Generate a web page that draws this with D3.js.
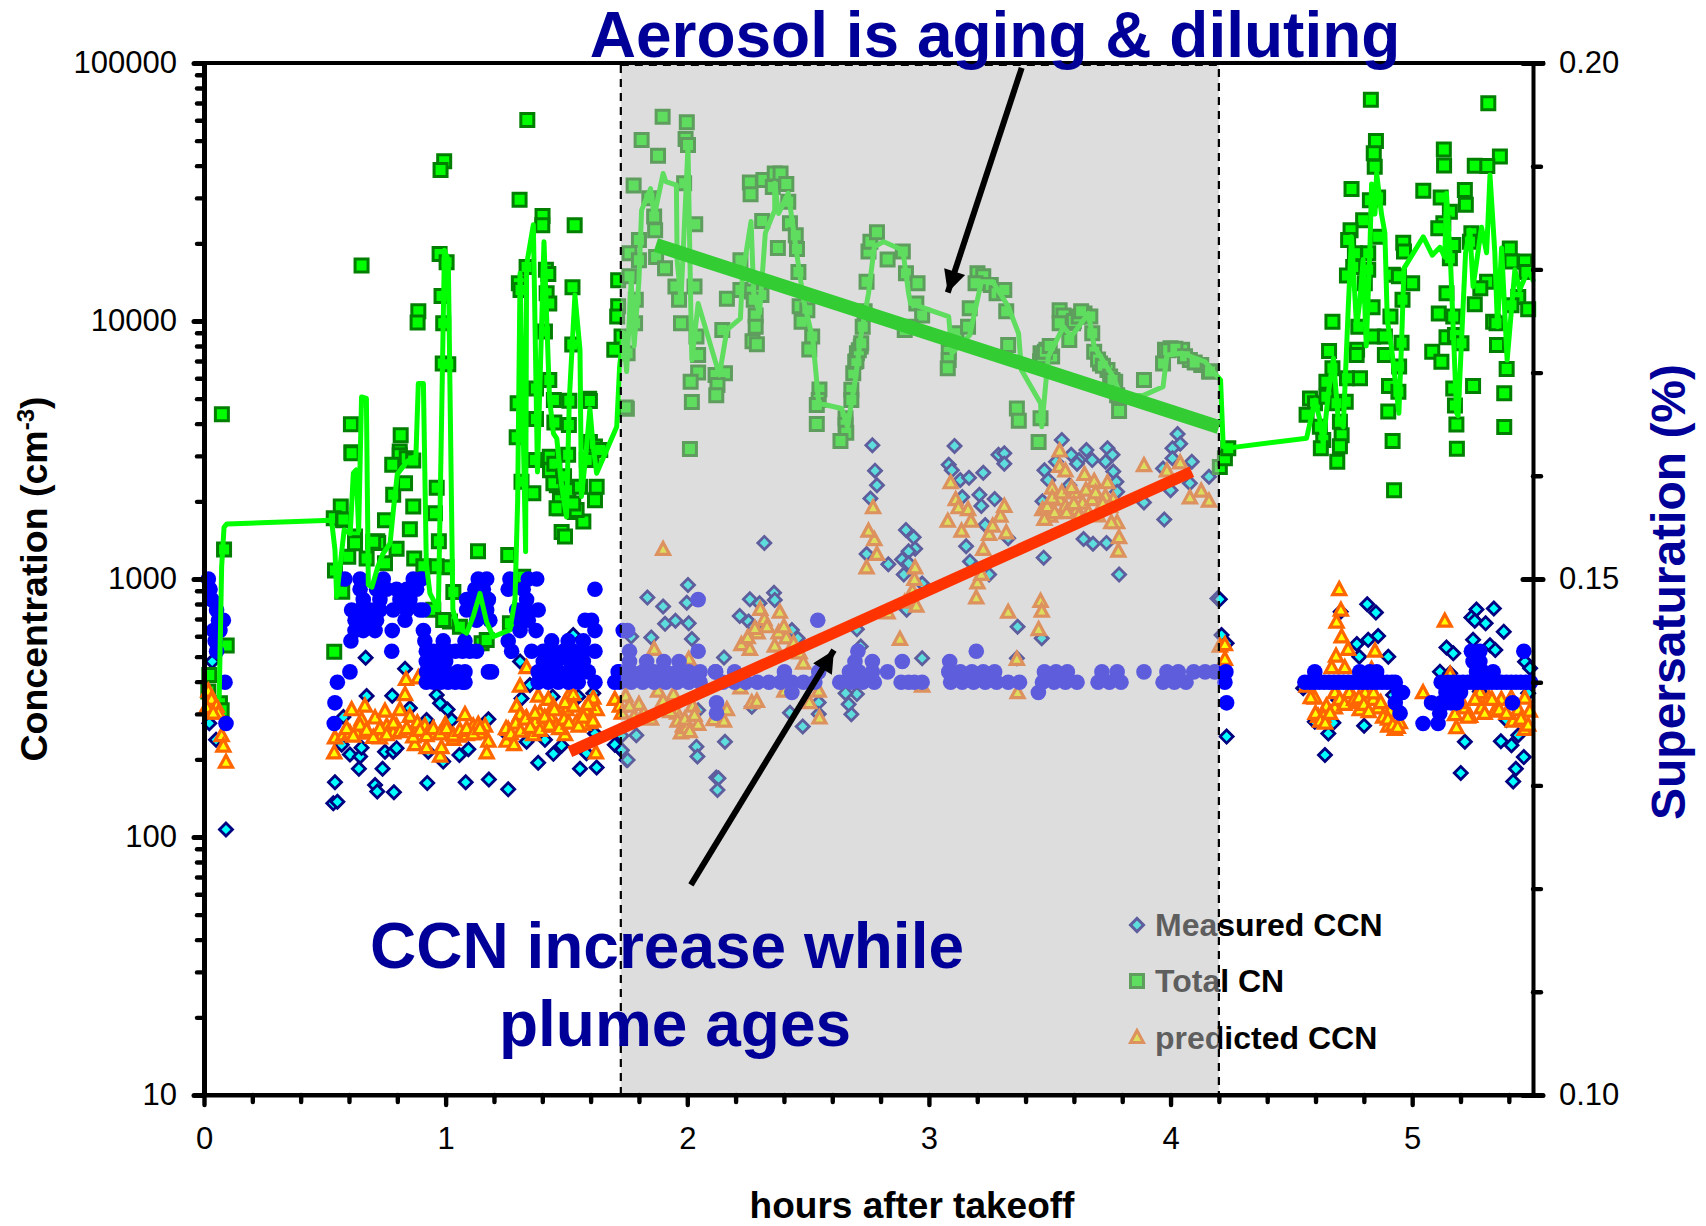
<!DOCTYPE html>
<html><head><meta charset="utf-8">
<script src="https://cdnjs.cloudflare.com/ajax/libs/d3/7.8.5/d3.min.js"></script>
<style>html,body{margin:0;padding:0;background:#fff}svg{display:block}text{font-family:"Liberation Sans",Arial,sans-serif}</style>
</head><body><svg id="c" width="1706" height="1226"></svg>
<script>
const totalCN=[[.074,4350],[.652,16400],[.608,3980],[.61,3100],[.814,3610],[.81,3120],[.887,10900],[.884,9860],[.994,41600],[.979,38500],[.975,18200],[1.004,16900],[.983,12500],[.99,9800],[.988,6850],[1.011,6800],[1.338,60100],[1.306,29500],[1.401,25500],[1.4,23500],[1.534,23500],[1.335,16200],[1.303,14000],[1.31,13200],[1.415,15800],[1.425,15200],[1.418,12800],[1.429,11700],[1.525,13500],[1.411,9100],[1.524,8100],[1.429,5900],[1.374,5480],[1.298,4800],[1.448,4940],[1.512,4910],[1.594,5000],[1.597,4900],[1.374,4170],[1.45,4040],[1.51,3950],[1.294,3540],[1.714,14400],[1.714,11400],[1.71,10400],[1.698,7730],[1.728,8700],[1.75,4570],[1.597,3400],[1.618,3260],
[.611,3070],[.81,3020],[.779,2770],[.839,2940],[.866,2880],[.963,2260],[.783,2120],[.832,2350],[.866,1910],[.566,1910],[.537,1720],[.576,1690],[.956,1800],[.749,1690],[.852,1560],[.625,1460],[.717,1400],[.972,1400],[.597,1220],[.797,1310],[.87,1200],[.673,1200],[.749,1150],[1.004,1110],[.963,1120],[.908,1120],[.542,1080],[.539,522],[1.134,1280],[1.259,1240],[.572,893],[1.032,890],[.949,760],[1.018,684],[1.059,653],[1.149,564],[1.17,580],[1.321,1020],[1.314,2380],[1.363,2150],[1.37,2890],[1.431,2980],[1.507,3030],[1.604,2980],[1.625,2280],[1.618,2020],[1.446,2640],[1.46,2310],[1.473,1880],[1.535,1820],[1.57,1670],[1.48,1520],[1.494,1460],[1.266,673],[.094,552],[.083,1300],[.022,425],[.018,366],[.066,330],[.073,310],[1.156,830],[.99,693],
[.625,1375],[.721,1380],[.7,1394],[.577,1700],[1.473,2020],[1.459,1880],[1.542,1850],[1.432,2640],[1.446,2350],[1.508,2210],[1.556,2280],[1.584,2890],[1.64,3160],[1.528,1960],[1.45,2800],[1.49,2500],
[1.898,61900],[1.998,58900],[1.811,50300],[1.879,43700],[1.993,50700],[2.003,48100],[1.778,33500],[1.987,34200],[1.843,29900],[1.863,25400],[2.033,23700],[1.867,22500],[1.8,20600],[1.761,18300],[1.8,17200],[1.871,17700],[1.908,16000],[1.761,14900],[1.951,13600],[1.966,12100],[2.03,13600],[1.787,12100],[1.784,9800],[1.974,9800],[1.753,7500],[2.038,8700],[2.045,7380],[2.045,6320],[2.014,5820],[2.019,4850],[2.011,3190],[1.745,4620],[2.22,17200],[2.164,12200],[2.22,13200],[2.145,9230],[2.117,6170],[2.156,6270],[2.125,5650],[2.12,5160],[2.259,34400],[2.262,31000],[2.315,35200],[2.362,37300],[2.386,37300],[2.41,34000],[2.354,33100],[2.418,29000],[2.31,24400],[2.425,23900],[2.449,21500],[2.454,19000],[2.375,19200],[2.46,15500],[2.267,13000],[2.307,12600],[2.275,12100],[2.283,10500],[2.283,9500],[2.27,8350],[2.288,8120],[2.465,11400],[2.497,11000],[2.473,9940],[2.517,8700],[2.505,7760],[2.547,5430],[2.544,4940],[2.536,4720],[2.536,3990],[2.679,5410],[2.679,4940],[2.655,4200],[2.655,3960],[2.658,3690],[2.634,3430],[2.687,6270],[2.695,6950],[2.702,7500],[2.718,7960],[2.726,9500],[2.734,10900],[2.742,14200],[2.75,18600],[2.758,20300],[2.785,22100],[2.829,17300],[2.892,18600],[2.905,15300],[2.953,14000],[2.948,11700],[2.972,10500],[2.924,9500],[2.9,9230],[3.082,7600],[3.082,7060],[3.078,6560],[3.169,11200],[3.114,8960],[3.162,9500],[3.201,15300],[3.225,14900],[3.193,14000],[3.256,13800],[3.28,12800],[3.312,13200],[3.32,10900],[3.328,8070],[3.364,4580],[3.372,4110],[3.462,4200],[3.454,3400],[3.541,11000],[3.557,10500],[3.541,9800],[3.581,8440],[3.597,9800],[3.644,10700],[3.668,10400],[3.676,8960],[3.684,7600],[3.708,6850],[3.739,6460],[3.771,5820],[3.779,5160],[3.787,4480],[3.462,7500],[3.486,7730],[3.51,7280],[3.89,5900],[3.977,7730],[4.0,7840],[4.048,7730],[3.969,6850],[4.08,7060],[4.127,6750],[4.159,6370],[3.7,7100],[3.72,6700],[3.75,6100],[3.76,5900],[3.46,7000],[3.47,7300],[3.48,7600],[3.5,8000],[2.7,7000],[2.71,7700],[2.72,8200],[3.6,10000],[3.62,10400],[3.63,10900],[3.99,7700],[4.02,7800],[4.06,7300],[4.1,6900],
[4.163,6370],[4.204,2720],[4.225,2940],[4.239,3210],[4.829,72100],[5.315,69800],[4.85,49900],[4.841,44700],[4.845,39600],[5.131,46200],[5.132,40100],[5.363,43400],[5.259,40000],[5.311,39900],[4.749,32500],[5.046,32000],[5.218,32200],[5.118,30100],[5.222,28200],[4.859,30100],[4.825,29400],[5.156,26500],[4.797,24600],[5.129,23900],[5.108,22900],[4.745,22500],[4.735,20600],[4.859,21200],[4.963,20100],[4.966,18600],[5.245,21900],[5.239,20300],[5.17,19700],[5.156,17500],[5.404,19100],[4.818,18300],[4.763,18300],[5.411,17000],[5.467,17000],[5.473,15500],[4.818,15800],[4.756,16200],[4.73,15000],[4.804,14000],[4.92,15100],[4.945,14900],[5.0,14000],[5.31,14200],[5.282,13400],[4.96,12100],[4.836,11300],[5.142,12800],[5.259,11600],[5.439,12400],[5.411,11500],[5.48,11100],[4.91,10400],[5.11,10700],[5.17,10400],[4.67,9940],[4.777,9500],[5.335,9940],[5.349,9800],[4.839,8700],[4.887,8700],[4.956,8240],[5.142,8650],[5.177,8830],[5.204,8190],[4.772,7730],[4.77,7380],[4.656,7650],[5.083,7600],[4.887,7380],[5.351,8070],[5.121,6950],[4.946,6660],[5.391,6520],[4.67,6560],[4.784,6000],[4.73,6000],[4.645,5820],[5.252,5600],[5.17,5480],[4.904,5600],[4.943,5320],[5.381,5250],[4.577,5010],[4.598,4800],[4.725,4860],[5.177,4700],[4.901,4460],[4.563,4330],[4.645,5090],[4.687,4800],[4.701,4070],[5.183,3970],[5.381,3880],[4.618,3890],[4.708,3610],[4.632,3460],[4.701,3270],[4.622,3210],[4.919,3430],[5.185,3200],[4.69,2850],[4.925,2210]];

const totalCNLine=[[.063,350],[.073,1116],[.083,1585],[.094,1635],[.528,1690],[.542,1295],[.549,855],[.58,1550],[.605,1500],[.618,2570],[.63,2650],[.64,1540],[.652,5080],[.672,5010],[.68,950],[.695,930],[.72,1120],[.74,1250],[.77,1375],[.785,1900],[.8,2550],[.84,2850],[.877,3000],[.887,5720],[.908,5720],[.92,1150],[.935,880],[.97,760],[.995,18800],[1.011,17200],[1.03,760],[1.05,650],[1.087,617],[1.115,720],[1.142,880],[1.17,680],[1.197,597],[1.266,635],[1.287,830],[1.298,2000],[1.308,15300],[1.331,1275],[1.335,16500],[1.363,23600],[1.38,2600],[1.407,20300],[1.43,5000],[1.446,3670],[1.46,3500],[1.48,2300],[1.5,1740],[1.512,5000],[1.535,12600],[1.556,7730],[1.562,2090],[1.58,3000],[1.597,4570],[1.61,3300],[1.625,2570],[1.708,3890],[1.72,6650],[1.735,9000],[1.749,6370],[1.768,14400],[1.78,8000],[1.8,14400],[1.811,26900],[1.848,32600],[1.863,25400],[1.9,37300],[1.911,34700],[1.955,33600],[1.958,17200],[1.974,12100],[2.003,47400],[2.014,12000],[2.019,7060],[2.045,11700],[2.133,6170],[2.164,9230],[2.22,10240],[2.228,14900],[2.264,24300],[2.275,12800],[2.299,10700],[2.323,21900],[2.362,26900],[2.362,34200],[2.378,26100],[2.418,31300],[2.457,17200],[2.481,12100],[2.52,8430],[2.544,4800],[2.639,4580],[2.663,3890],[2.695,5900],[2.718,8700],[2.75,12800],[2.774,19400],[2.813,20300],[2.892,18800],[2.916,12800],[2.924,11700],[3.082,10400],[3.095,7500],[3.169,8830],[3.217,14200],[3.264,14200],[3.328,11400],[3.371,8960],[3.383,6460],[3.462,4800],[3.467,3890],[3.494,7280],[3.557,9500],[3.589,8700],[3.66,10700],[3.684,7960],[3.763,6080],[3.795,5090],[3.89,5160],[3.969,5560],[3.985,7380],[4.048,7500],[4.143,6950],[4.183,6270],[4.207,5900],[4.218,3260],[4.252,3230],[4.563,3510],[4.598,4940],[4.618,4130],[4.632,3360],[4.653,5250],[4.674,7170],[4.694,4130],[4.715,3890],[4.735,11000],[4.749,21200],[4.77,9500],[4.784,12100],[4.797,17300],[4.81,8000],[4.825,18900],[4.832,34000],[4.846,26000],[4.853,37400],[4.873,26000],[4.887,21900],[4.897,10100],[4.914,7950],[4.945,4390],[4.956,8200],[4.966,16000],[5.046,21200],[5.083,18000],[5.115,19300],[5.135,17700],[5.142,31200],[5.159,16700],[5.184,4390],[5.19,4300],[5.221,18400],[5.239,22500],[5.252,13600],[5.287,23100],[5.308,18400],[5.322,36800],[5.342,18400],[5.353,9500],[5.37,19200],[5.393,7060],[5.425,15800],[5.445,13200],[5.48,15800],[5.5,14400]];

const measuredCCN=[[.091,107],[.034,479],[.022,276],[.05,238],[.669,495],[.832,449],[1.308,479],[1.528,607],[.673,352],[.779,353],[.963,355],[.977,330],[1.008,312],[.852,316],[1.349,388],[1.314,344],[1.443,350],[1.549,350],[1.611,361],[.577,292],[1.177,286],[1.025,284],[.921,284],[.604,209],[.646,205],[.652,222],[.57,228],[.749,214],[.783,214],[.797,221],[.928,214],[1.057,208],[1.094,219],[.99,196],[1.335,234],[1.411,238],[1.446,210],[1.48,226],[1.383,194],[1.583,211],[1.618,252],[1.7,228],[1.556,184],[1.625,186],[.641,184],[.739,184],[.542,163],[.708,159],[.717,150],[.786,149],[.924,162],[1.083,163],[1.179,167],[1.259,153],[.535,135],[.552,137],[1.252,251],[1.728,247],[1.749,199],[1.728,217],
[1.753,199],[1.729,217],[1.789,248],[1.768,598],[1.835,847],[1.9,782],[1.908,670],[1.951,689],[2.006,673],[2.003,948],[1.998,809],[1.851,593],[2.019,585],[2.319,1380],[2.259,834],[2.359,885],[2.362,830],[2.217,719],[2.254,684],[2.275,653],[2.299,805],[2.152,496],[2.433,634],[2.457,589],[2.702,638],[2.718,547],[2.972,493],[3.367,653],[3.467,589],[3.364,493],[2.045,310],[2.038,224],[2.042,205],[2.156,234],[2.12,170],[2.129,169],[2.125,152],[2.478,268],[2.425,303],[2.544,332],[2.544,300],[2.679,299],[2.668,327],[2.702,358],[2.655,361],[2.267,320],[2.766,3300],[2.777,2630],[2.785,2310],[2.758,2050],[2.742,1250],[2.832,1140],[2.905,1550],[2.937,1450],[2.943,1310],[2.916,1280],[2.889,1190],[2.896,1040],[2.916,1150],[2.972,960],[2.908,760],[3.106,3280],[3.082,2770],[3.095,2640],[3.13,2420],[3.166,2470],[3.225,2580],[3.138,2080],[3.209,2120],[3.217,1920],[3.272,2040],[3.288,3030],[3.312,3070],[3.312,2800],[3.154,1340],[3.233,1620],[3.17,1170],[3.249,1040],[3.328,1440],[3.475,1210],[3.47,2000],[3.478,2640],[3.494,2420],[3.55,3460],[3.526,2850],[3.581,2310],[3.589,3030],[3.621,2890],[3.652,3160],[3.676,2890],[3.613,2800],[3.739,3210],[3.76,3030],[3.731,2850],[3.763,2610],[3.776,2380],[3.779,2180],[3.64,1430],[3.679,1370],[3.735,1380],[3.787,1040],[3.89,1980],[3.974,1700],[3.969,2680],[4.0,2210],[4.029,3650],[4.04,3340],[4.008,3210],[4.008,2940],[4.088,2850],[4.159,2490],[4.08,2350],[4.194,841],
[4.204,834],[4.211,607],[4.232,564],[4.232,245],[4.814,798],[4.85,741],[4.859,601],[4.818,581],[4.704,747],[4.771,560],[4.901,500],[4.781,500],[4.639,208],[4.653,252],[4.674,277],[4.597,280],[4.801,270],[5.266,762],[5.338,769],[5.245,710],[5.259,689],[5.304,673],[5.379,625],[5.142,543],[5.17,515],[5.252,581],[5.322,554],[5.344,531],[5.115,437],[5.157,431],[5.218,234],[5.201,177],[5.367,235],[5.411,227],[5.439,248],[5.462,204],[5.429,184],[5.418,164],[5.467,478],[5.488,451],[5.48,361],[5.39,284],[4.921,355],[4.549,377],[4.694,340],[5.28,366]];

const predictedCCN=[[.018,366],[.031,340],[.011,316],[.052,320],[.059,301],[.073,246],[.08,224],[.091,194],[.038,301],
[.539,211],[.542,241],[.577,248],[.611,310],[.666,320],[.652,284],[.632,252],[.604,252],[.708,288],[.749,306],[.728,241],[.68,252],[.756,268],[.797,268],[.811,310],[.832,355],[.836,406],[.887,412],[.783,252],[.852,292],[.883,276],[.873,227],[.921,221],[.914,268],[.949,252],[.977,205],[.983,221],[.999,272],[.99,252],[1.032,238],[1.053,245],[1.08,297],[1.087,248],[1.114,268],[1.163,268],[1.142,252],[1.177,234],[1.17,211],[1.135,272],
[.59,262],[.618,245],[.646,270],[.673,258],[.701,242],[.728,262],[.756,248],[.784,275],[.811,255],[.839,262],[.866,243],[.894,258],[.921,246],[.949,262],[.977,250],[1.004,262],[1.032,247],[1.059,258],[1.087,262],[1.114,250],[1.142,262],
[1.335,451],[1.308,383],[1.294,320],[1.308,297],[1.335,288],[1.259,260],[1.252,234],[1.283,227],[1.363,248],[1.383,350],[1.39,301],[1.425,340],[1.432,292],[1.459,268],[1.397,268],[1.494,248],[1.501,310],[1.508,350],[1.528,355],[1.494,330],[1.541,276],[1.611,344],[1.576,310],[1.625,310],[1.597,276],[1.622,211],[1.57,272],[1.7,340],[1.721,320],[1.37,276],[1.446,320],
[1.25,262],[1.27,250],[1.29,275],[1.31,256],[1.33,285],[1.35,265],[1.37,300],[1.39,258],[1.41,290],[1.43,270],[1.45,310],[1.47,262],[1.49,285],[1.51,275],[1.53,320],[1.55,268],[1.57,290],[1.59,325],[1.61,280],
[1.9,1296],[1.863,531],[2.006,486],[1.879,366],[1.745,350],[1.8,325],[1.729,301],[1.943,355],[1.958,301],[2.022,320],[1.982,268],[2.045,272],[1.974,252],[1.998,264],[2.109,284],[2.152,280],[2.164,310],[2.22,377],[2.224,554],[2.259,531],[2.291,616],[2.302,759],[2.319,693],[2.383,740],[2.378,616],[2.41,589],[2.362,547],[2.267,330],[2.288,334],[2.505,330],[2.547,288],[2.544,366],[2.465,515],[2.402,366],[2.88,581],[2.972,383],[3.367,361],[3.364,486],[3.454,634],[3.462,816],[3.467,747],[3.328,740],[3.196,841],[2.829,736],[2.9,809],[2.948,782],[2.932,893],[2.94,991],[2.943,1100],[2.742,1100],[2.785,1240],[2.774,1416],[2.75,1525],[2.769,1880],[3.09,2350],[3.078,1667],[3.111,2020],[3.122,1880],[3.162,1850],[3.174,1667],[3.135,1525],[3.225,1296],[3.201,961],[3.217,1037],[3.249,1482],[3.264,1595],[3.296,1745],[3.312,1905],[3.32,1503],[3.541,3120],[3.541,2720],[3.565,2610],[3.51,2240],[3.502,1745],[3.47,1850],[3.478,1695],[3.541,2020],[3.565,1905],[3.605,2150],[3.644,2530],[3.684,2380],[3.636,1960],[3.676,2020],[3.613,1850],[3.739,2350],[3.731,2080],[3.763,2020],[3.779,1645],[3.787,1440],[3.784,1276],[3.755,1645],[3.89,2740],[3.985,2610],[4.04,2806],[4.08,2055],[4.127,2180],[4.159,1995],
[3.49,1900],[3.51,2050],[3.52,1800],[3.55,2150],[3.57,1800],[3.59,2250],[3.6,1950],[3.62,1750],[3.65,2200],[3.66,1800],[3.69,2150],[3.7,1750],[3.72,1950],[3.75,1900],
[1.76,320],[1.78,290],[1.82,300],[1.85,285],[1.9,335],[1.93,305],[1.96,280],[1.99,285],[2.01,255],[2.03,295],[2.25,590],[2.28,640],[2.33,650],[2.4,650],[2.44,560],[2.48,470],
[4.204,547],[4.225,554],[4.225,486],[4.698,906],[4.705,754],[4.687,678],[4.708,594],[4.735,531],[4.685,500],[4.846,523],[4.667,451],[4.721,451],[4.832,444],[4.597,344],[4.68,315],[4.645,320],[4.611,292],[4.68,361],[4.563,383],[4.74,361],[4.783,310],[4.805,361],[4.839,340],[4.859,315],[4.908,306],[4.901,268],[4.928,260],[4.949,276],[4.77,330],[4.632,292],[5.135,683],[5.045,361],[5.183,264],[5.24,292],[5.177,297],[5.218,315],[5.287,315],[5.342,306],[5.318,344],[5.369,340],[5.417,280],[5.439,310],[5.466,260],[5.466,344],[5.487,306],[5.157,425],[5.28,361],
[4.58,345],[4.6,300],[4.62,280],[4.64,275],[4.66,300],[4.7,340],[4.72,325],[4.76,340],[4.78,345],[4.8,325],[4.82,305],[4.84,360],[4.87,330],[4.88,290],[4.9,285],[4.92,270],[4.94,265],[5.2,330],[5.23,290],[5.26,340],[5.3,300],[5.33,340],[5.36,310],[5.39,300],[5.41,345],[5.45,285],[5.48,270]];

const supersaturation=[[.018,.15],[.025,.149],[.032,.148],[.052,.147],[.08,.146],[.06,.146],[.039,.145],[.066,.145],[.046,.144],[.052,.143],[.087,.14],[.091,.136],
[.539,.136],[.542,.138],[.552,.14],[.604,.141],[.608,.144],[.583,.15],[.646,.15],[.777,.143],[.779,.145],[.742,.15],[.866,.15],[.9,.15],[.646,.149],[.714,.149],[.756,.149],[.797,.149],[.839,.149],[.88,.149],[.659,.148],[.728,.148],[.811,.148],[.852,.148],[.611,.147],[.646,.147],[.687,.147],[.728,.147],[.783,.147],[.839,.147],[.894,.147],[.625,.146],[.673,.146],[.714,.146],[.832,.146],[.625,.145],[.659,.145],[.708,.145],
[1.135,.15],[1.17,.15],[1.121,.149],[1.156,.149],[1.087,.148],[1.1,.148],[1.177,.148],[1.087,.147],[1.121,.147],[1.17,.147],[1.128,.146],[1.183,.146],[.908,.145],[.914,.144],[.99,.144],[1.08,.144],[.92,.143],[.95,.143],[.98,.143],[1.01,.143],[1.04,.143],[1.07,.143],[1.1,.143],[1.128,.143],[.92,.142],[.96,.142],[1,.142],[.921,.141],[.96,.141],[1,.141],[1.05,.141],[1.08,.141],[1.177,.141],[1.19,.141],[.92,.14],[.95,.14],[.98,.14],[1.01,.14],[1.04,.14],[1.07,.14],[1.08,.14],[.908,.147],
[1.266,.15],[1.342,.15],[1.377,.15],[1.259,.149],[1.321,.149],[1.335,.148],[1.294,.147],[1.335,.147],[1.383,.147],[1.308,.146],[1.342,.146],[1.308,.145],[1.374,.145],[1.259,.144],[1.273,.143],[1.439,.144],[1.507,.144],[1.57,.144],[1.356,.143],[1.404,.143],[1.446,.143],[1.487,.143],[1.528,.143],[1.57,.143],[1.618,.143],[1.404,.142],[1.459,.142],[1.514,.142],[1.57,.142],[1.383,.141],[1.425,.141],[1.466,.141],[1.508,.141],[1.549,.141],[1.59,.141],[1.383,.14],[1.425,.14],[1.466,.14],[1.508,.14],[1.549,.14],[1.618,.14],[1.7,.14],[1.618,.149],[1.577,.146],[1.604,.146],[1.618,.145],[1.735,.145],[1.714,.141],
[1.721,.14],[1.768,.14],[1.816,.14],[1.863,.14],[1.911,.14],[1.958,.14],[2.006,.14],[2.053,.14],[1.721,.141],[1.768,.141],[1.816,.141],[1.863,.141],[1.911,.141],[1.958,.141],[2.006,.141],[2.053,.141],[1.761,.142],[1.832,.142],[1.903,.142],[1.966,.142],[1.761,.143],[1.753,.145],[2.045,.143],[2.045,.148],[2.117,.141],[2.148,.14],[2.196,.14],[2.243,.14],[2.291,.14],[2.338,.14],[2.386,.14],[2.433,.14],[2.481,.14],[2.528,.14],[2.117,.141],[2.196,.141],[2.402,.141],[2.544,.141],[2.631,.14],[2.679,.14],[2.726,.14],[2.774,.14],[2.671,.141],[2.71,.141],[2.766,.141],[2.829,.141],[2.694,.142],[2.766,.142],[2.89,.142],[2.706,.143],[2.885,.14],[2.916,.14],[2.94,.14],[2.972,.14],[2.54,.146],[2.121,.138],[2.121,.137],[2.433,.139],
[3.09,.14],[3.138,.14],[3.185,.14],[3.233,.14],[3.28,.14],[3.328,.14],[3.375,.14],[3.082,.141],[3.13,.141],[3.178,.141],[3.225,.141],[3.272,.141],[3.086,.142],[3.196,.143],[3.453,.139],[3.47,.14],[3.518,.14],[3.565,.14],[3.613,.14],[3.478,.141],[3.526,.141],[3.573,.141],[3.7,.14],[3.747,.14],[3.795,.14],[3.716,.141],[3.779,.141],[3.89,.141],[3.969,.14],[4.016,.14],[4.064,.14],[3.985,.141],[4.032,.141],[4.096,.141],[4.143,.141],[4.183,.141],
[4.229,.141],[4.225,.14],[4.232,.138],[4.597,.141],[4.783,.141],[4.825,.141],[4.853,.141],[4.556,.14],[4.576,.14],[4.596,.14],[4.616,.14],[4.636,.14],[4.656,.14],[4.676,.14],[4.696,.14],[4.716,.14],[4.736,.14],[4.756,.14],[4.776,.14],[4.796,.14],[4.816,.14],[4.836,.14],[4.856,.14],[4.876,.14],[4.896,.14],[4.916,.14],[4.93,.14],[4.945,.139],[4.96,.139],[4.93,.138],[4.95,.137],[5.045,.136],[5.107,.136],[5.08,.138],[5.114,.137],[5.184,.138],[5.14,.139],[5.155,.139],[5.12,.14],[5.15,.14],[5.245,.143],[5.28,.143],[5.252,.142],[5.28,.142],[5.293,.141],[5.335,.141],[5.266,.141],[5.415,.138],[5.462,.143],[5.17,.14],[5.19,.14],[5.21,.14],[5.23,.14],[5.25,.14],[5.27,.14],[5.29,.14],[5.31,.14],[5.33,.14],[5.35,.14],[5.37,.14],[5.39,.14],[5.41,.14],[5.43,.14],[5.45,.14],[5.47,.14],[5.49,.14],[5.2,.139],[5.14,.138],[5.16,.138],[5.12,.138]];

const shadedHours=[1.725,4.2];
const agingTrend=[[1.87,19700],[4.2,3880]];
const ccnTrend=[[1.514,214],[4.088,2606]];
const arrowAging=[[3.384,95700],[3.078,12900]];
const arrowCCN=[[2.015,65.2],[2.607,530]];
const legendItems=["Measured CCN","Total CN","predicted CCN"];

const L=204,R=1533,T=63,B=1095;
const x=d3.scaleLinear().domain([0,5.5]).range([L,R]);
const y=d3.scaleLog().domain([10,100000]).range([B,T]);
const y2=d3.scaleLinear().domain([.1,.2]).range([B,T]);
const svg=d3.select("#c");

const sq=d3.symbol(d3.symbolSquare,169)(), di=d3.symbol(d3.symbolSquare,85)(), tr="M0,-7.5L6.5,4.5H-6.5Z";
function points(data,path,fill,stroke,sw,rot){
  svg.append("g").selectAll("path").data(data).join("path").attr("d",path)
    .attr("transform",d=>`translate(${x(d[0])},${y(d[1])})`+(rot?" rotate(45)":""))
    .attr("fill",fill).attr("stroke",stroke).attr("stroke-width",sw);
}
points(measuredCCN,di,"#00ffff","#000080",2.8,true);
points(totalCN,sq,"#00ff00","#007f00",3,false);
points(predictedCCN,tr,"#ffff00","#ff6600",3.2,false);
svg.append("g").selectAll("circle").data(supersaturation).join("circle")
  .attr("cx",d=>x(d[0])).attr("cy",d=>y2(d[1])).attr("r",7.8).attr("fill","#0000ff");
svg.append("path").attr("d",d3.line().x(d=>x(d[0])).y(d=>y(d[1]))(totalCNLine))
  .attr("fill","none").attr("stroke","#00ff00").attr("stroke-width",5).attr("stroke-linejoin","round").attr("stroke-linecap","round");

// legend
const legY=[925,981,1038], legX=1137;
const lg=svg.append("g");
legendItems.forEach((t,i)=>{
  const p=[di,sq,tr][i], f=["#00ffff","#00ff00","#ffff00"][i], s=["#000080","#007f00","#ff6600"][i];
  lg.append("path").attr("d",p).attr("transform",`translate(${legX},${legY[i]})`+(i==0?" rotate(45)":""))
    .attr("fill",f).attr("stroke",s).attr("stroke-width",3);
  lg.append("text").attr("x",1155).attr("y",legY[i]+11).attr("font-size",32).attr("font-weight","bold").attr("fill","#000").text(t);
});

// shaded overlay
svg.append("rect").attr("x",x(shadedHours[0])).attr("y",T).attr("width",x(shadedHours[1])-x(shadedHours[0])).attr("height",B-T)
  .attr("fill","#bbbbbb").attr("fill-opacity",.5);
svg.append("rect").attr("x",x(shadedHours[0])).attr("y",T+2).attr("width",x(shadedHours[1])-x(shadedHours[0])).attr("height",B-T-2)
  .attr("fill","none").attr("stroke","#000").attr("stroke-width",2.2).attr("stroke-dasharray","8 6");

const ln=d3.line().x(d=>x(d[0])).y(d=>y(d[1]));
svg.append("path").attr("d",ln(agingTrend)).attr("stroke","#33cc33").attr("stroke-width",14).attr("fill","none");
svg.append("path").attr("d",ln(ccnTrend)).attr("stroke","#ff3300").attr("stroke-width",11.5).attr("fill","none");

svg.append("defs").append("marker").attr("id","ah").attr("viewBox","0 0 10 10").attr("refX",10).attr("refY",5)
  .attr("markerUnits","userSpaceOnUse").attr("markerWidth",26).attr("markerHeight",22).attr("orient","auto")
  .append("path").attr("d","M0,0L10,5L0,10Z").attr("fill","#000");
[arrowAging,arrowCCN].forEach(a=>svg.append("path").attr("d",ln(a)).attr("stroke","#000").attr("stroke-width",6).attr("fill","none").attr("marker-end","url(#ah)"));

// axes
const decades=[10,100,1000,10000,100000];
const logTicks=[];decades.forEach(d=>{for(let k=1;k<10;k++){const v=d*k;if(v<=100000)logTicks.push(v);}});
const yAxis=d3.axisLeft(y).tickValues(logTicks).tickFormat(d=>decades.includes(d)?String(d):"").tickSizeOuter(0).tickPadding(0);
const gy=svg.append("g").attr("transform",`translate(${L},0)`).call(yAxis);
gy.select(".domain").attr("stroke","#000").attr("stroke-width",5);
gy.selectAll(".tick line").attr("stroke","#000").attr("stroke-linecap","round")
  .attr("stroke-width",d=>decades.includes(d)?5:4.4).attr("x2",d=>decades.includes(d)?-10:-7);
gy.selectAll(".tick text").attr("x",-27).attr("font-size",31).attr("fill","#000").attr("font-family","Liberation Sans");

const ssTicks=d3.range(10,21).map(d=>d/100);
const majorSS=[.1,.15,.2];
const isMajorSS=d=>majorSS.some(m=>Math.abs(m-d)<1e-6);
const rAxis=d3.axisRight(y2).tickValues(ssTicks).tickFormat(d=>isMajorSS(d)?d.toFixed(2):"").tickSizeOuter(0);
const gr=svg.append("g").attr("transform",`translate(${R},0)`).call(rAxis);
gr.select(".domain").attr("stroke","#000").attr("stroke-width",4);
gr.selectAll(".tick line").attr("stroke","#000").attr("stroke-linecap","round")
  .attr("stroke-width",d=>isMajorSS(d)?5:4.4).attr("x1",d=>isMajorSS(d)?-10:0).attr("x2",d=>isMajorSS(d)?10:8);
gr.selectAll(".tick text").attr("x",26).attr("font-size",31).attr("fill","#000").attr("font-family","Liberation Sans");

const hTicks=d3.range(0,28).map(d=>d/5);
const isH=d=>Math.abs(d-Math.round(d))<1e-6;
const xAxis=d3.axisBottom(x).tickValues(hTicks).tickFormat(d=>isH(d)?String(Math.round(d)):"").tickSizeOuter(0);
const gx=svg.append("g").attr("transform",`translate(0,${B})`).call(xAxis);
gx.select(".domain").attr("stroke","#000").attr("stroke-width",4);
gx.selectAll(".tick line").attr("stroke","#000").attr("stroke-linecap","round")
  .attr("stroke-width",4.4).attr("y2",d=>isH(d)?10:7);
gx.selectAll(".tick text").attr("y",32).attr("font-size",31).attr("fill","#000").attr("font-family","Liberation Sans");
svg.append("path").attr("d",`M${L-2},${T}H${R+12}`).attr("stroke","#000").attr("stroke-width",4);
svg.append("path").attr("d",`M${L},${B}H${R}`).attr("stroke","#000").attr("stroke-width",4);

// labels
const yl=svg.append("text").attr("transform","translate(47,579) rotate(-90)").attr("text-anchor","middle").attr("font-size",37.5).attr("font-weight","bold").attr("fill","#000");
yl.append("tspan").text("Concentration (cm");
yl.append("tspan").attr("dy",-13).attr("font-size",24).text("-3");
yl.append("tspan").attr("dy",13).text(")");
svg.append("text").attr("transform","translate(1685,592) rotate(-90)").attr("text-anchor","middle").attr("font-size",48).attr("font-weight","bold").attr("fill","#000099").text("Supersaturation (%)");
svg.append("text").attr("x",912).attr("y",1218).attr("text-anchor","middle").attr("font-size",37).attr("font-weight","bold").attr("fill","#000").text("hours after takeoff");
const ann=(t,xx,yy)=>svg.append("text").attr("x",xx).attr("y",yy).attr("text-anchor","middle").attr("font-size",64).attr("font-weight","bold").attr("fill","#000099").text(t);
ann("Aerosol is aging & diluting",995,57);
ann("CCN increase while",667,968);
ann("plume ages",675,1046);
</script></body></html>
